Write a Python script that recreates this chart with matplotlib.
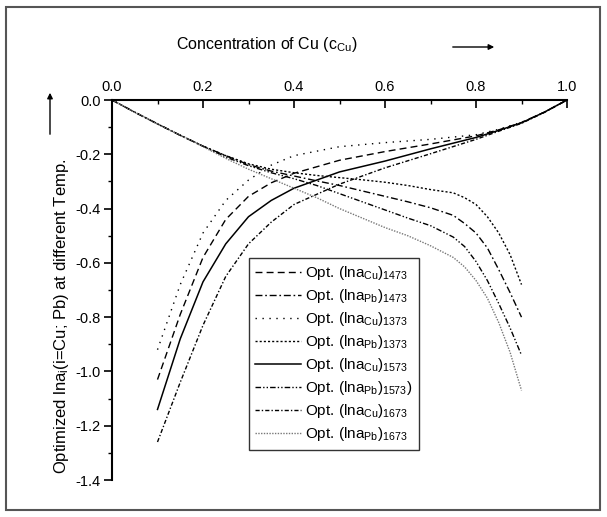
import matplotlib
matplotlib.use("Agg")
import matplotlib.pyplot as plt
from matplotlib.patches import Rectangle, FancyArrowPatch
from matplotlib.ticker import MultipleLocator, FormatStrFormatter

plt.rcParams['font.family'] = ['Liberation Sans', 'DejaVu Sans']
plt.rcParams['mathtext.default'] = 'regular'

# Data
x_cu = [0.1, 0.15, 0.2, 0.25, 0.3, 0.35, 0.4, 0.5, 0.6, 0.7, 0.8, 0.85, 0.9, 0.95, 1.0]
cu_1373 = [-0.92, -0.68, -0.49, -0.37, -0.295, -0.24, -0.205, -0.172, -0.157, -0.145, -0.128, -0.108, -0.082, -0.045, 0.0]
cu_1473 = [-1.03, -0.79, -0.58, -0.44, -0.355, -0.305, -0.27, -0.222, -0.19, -0.162, -0.132, -0.11, -0.083, -0.045, 0.0]
cu_1573 = [-1.14, -0.88, -0.67, -0.53, -0.43, -0.37, -0.325, -0.265, -0.225, -0.18, -0.138, -0.112, -0.084, -0.045, 0.0]
cu_1673 = [-1.26, -1.04, -0.83, -0.65, -0.53, -0.45, -0.385, -0.31, -0.25, -0.198, -0.145, -0.115, -0.086, -0.046, 0.0]

x_pb = [0.0, 0.05, 0.1, 0.15, 0.2, 0.25, 0.3, 0.35, 0.4, 0.45, 0.5, 0.55, 0.6, 0.65, 0.7, 0.75,
        0.775, 0.8, 0.825, 0.85, 0.875, 0.9]
pb_1373 = [0.0, -0.045, -0.088, -0.13, -0.17, -0.205, -0.235, -0.255, -0.268, -0.278, -0.286, -0.294,
           -0.303, -0.315, -0.33, -0.342, -0.36, -0.385, -0.43, -0.49, -0.57, -0.68]
pb_1473 = [0.0, -0.045, -0.088, -0.13, -0.17, -0.205, -0.238, -0.262, -0.28, -0.298, -0.315, -0.335,
           -0.355, -0.375, -0.397, -0.425, -0.455, -0.49, -0.545, -0.625, -0.71, -0.80]
pb_1573 = [0.0, -0.045, -0.088, -0.13, -0.17, -0.21, -0.242, -0.268, -0.29, -0.315, -0.345, -0.375,
           -0.405, -0.435, -0.463, -0.505, -0.54, -0.595, -0.665, -0.75, -0.84, -0.94]
pb_1673 = [0.0, -0.045, -0.088, -0.13, -0.172, -0.215, -0.255, -0.29, -0.325, -0.36, -0.40, -0.435,
           -0.47, -0.50, -0.537, -0.58, -0.615, -0.665, -0.73, -0.82, -0.93, -1.07]

labels = [
    "Opt. (lna$_{Cu}$)$_{1473}$",
    "Opt. (lna$_{Pb}$)$_{1473}$",
    "Opt. (lna$_{Cu}$)$_{1373}$",
    "Opt. (lna$_{Pb}$)$_{1373}$",
    "Opt. (lna$_{Cu}$)$_{1573}$",
    "Opt. (lna$_{Pb}$)$_{1573}$)",
    "Opt. (lna$_{Cu}$)$_{1673}$",
    "Opt. (lna$_{Pb}$)$_{1673}$",
]

fig = plt.figure(figsize=(6.07, 5.17), dpi=100)
ax = fig.add_axes([112/607, 1-480/517, 455/607, 380/517])

lw = 1.0
ax.plot(x_cu, cu_1473, color='black', lw=lw, linestyle=(0, (5, 3)), label=labels[0])
ax.plot(x_pb, pb_1473, color='black', lw=lw, linestyle=(0, (5, 2, 1.2, 2)), label=labels[1])
ax.plot(x_cu, cu_1373, color='black', lw=lw, linestyle=(0, (1, 4)), label=labels[2])
ax.plot(x_pb, pb_1373, color='black', lw=lw, linestyle=(0, (1.5, 1.5)), label=labels[3])
ax.plot(x_cu, cu_1573, color='black', lw=1.1, linestyle='-', label=labels[4])
ax.plot(x_pb, pb_1573, color='black', lw=lw, linestyle=(0, (4, 1.5, 1, 1.5, 1, 1.5)), label=labels[5])
ax.plot(x_cu, cu_1673, color='black', lw=lw, linestyle=(0, (3, 1.5, 1, 1.5)), label=labels[6])
ax.plot(x_pb, pb_1673, color='#777777', lw=lw, linestyle=(0, (1, 1)), label=labels[7])

ax.set_xlim(0, 1.0)
ax.set_ylim(-1.4, 0.0)

ax.spines['right'].set_visible(False)
ax.spines['bottom'].set_visible(False)
ax.spines['left'].set_linewidth(1.5)
ax.spines['top'].set_linewidth(1.5)

ax.xaxis.set_ticks_position('top')
ax.xaxis.set_label_position('top')
ax.xaxis.set_major_locator(MultipleLocator(0.2))
ax.xaxis.set_minor_locator(MultipleLocator(0.1))
ax.yaxis.set_major_locator(MultipleLocator(0.2))
ax.yaxis.set_minor_locator(MultipleLocator(0.1))
ax.tick_params(axis='x', which='major', direction='in', length=6, width=1.2, labelsize=10.5, pad=4)
ax.tick_params(axis='x', which='minor', direction='in', length=3, width=1.0)
ax.tick_params(axis='y', which='major', direction='out', length=6, width=1.2, labelsize=10.5, pad=2)
ax.tick_params(axis='y', which='minor', direction='out', length=3, width=1.0)
ax.xaxis.set_major_formatter(FormatStrFormatter('%.1f'))
ax.yaxis.set_major_formatter(FormatStrFormatter('%.1f'))

leg = ax.legend(loc='upper left', bbox_to_anchor=(0.301, 0.584), fontsize=11,
                frameon=True, fancybox=False, edgecolor='black', handlelength=3.0,
                handletextpad=0.3, labelspacing=0.33, borderpad=0.4, borderaxespad=0)
leg.get_frame().set_linewidth(1.0)

# axis titles
fig.text(267/607, 1-45/517, "Concentration of Cu (c$_{Cu}$)", ha='center', va='center', fontsize=11.5)
fig.text(62/607, 1-316/517, "Optimized lna$_{i}$(i=Cu; Pb) at different Temp.", ha='center', va='center',
         rotation=90, fontsize=12)

# arrows
fig.add_artist(FancyArrowPatch((450/607, 1-47/517), (497/607, 1-47/517), transform=fig.transFigure,
                               arrowstyle='-|>', mutation_scale=8, color='black', lw=1.0))
fig.add_artist(FancyArrowPatch((50/607, 1-137/517), (50/607, 1-90/517), transform=fig.transFigure,
                               arrowstyle='-|>', mutation_scale=8, color='black', lw=1.0))

# outer frame
fig.add_artist(Rectangle((6/607, 1-510/517), 594/607, 503/517, transform=fig.transFigure,
                         fill=False, edgecolor='#555555', lw=1.5))

fig.savefig('out.png', dpi=100)
